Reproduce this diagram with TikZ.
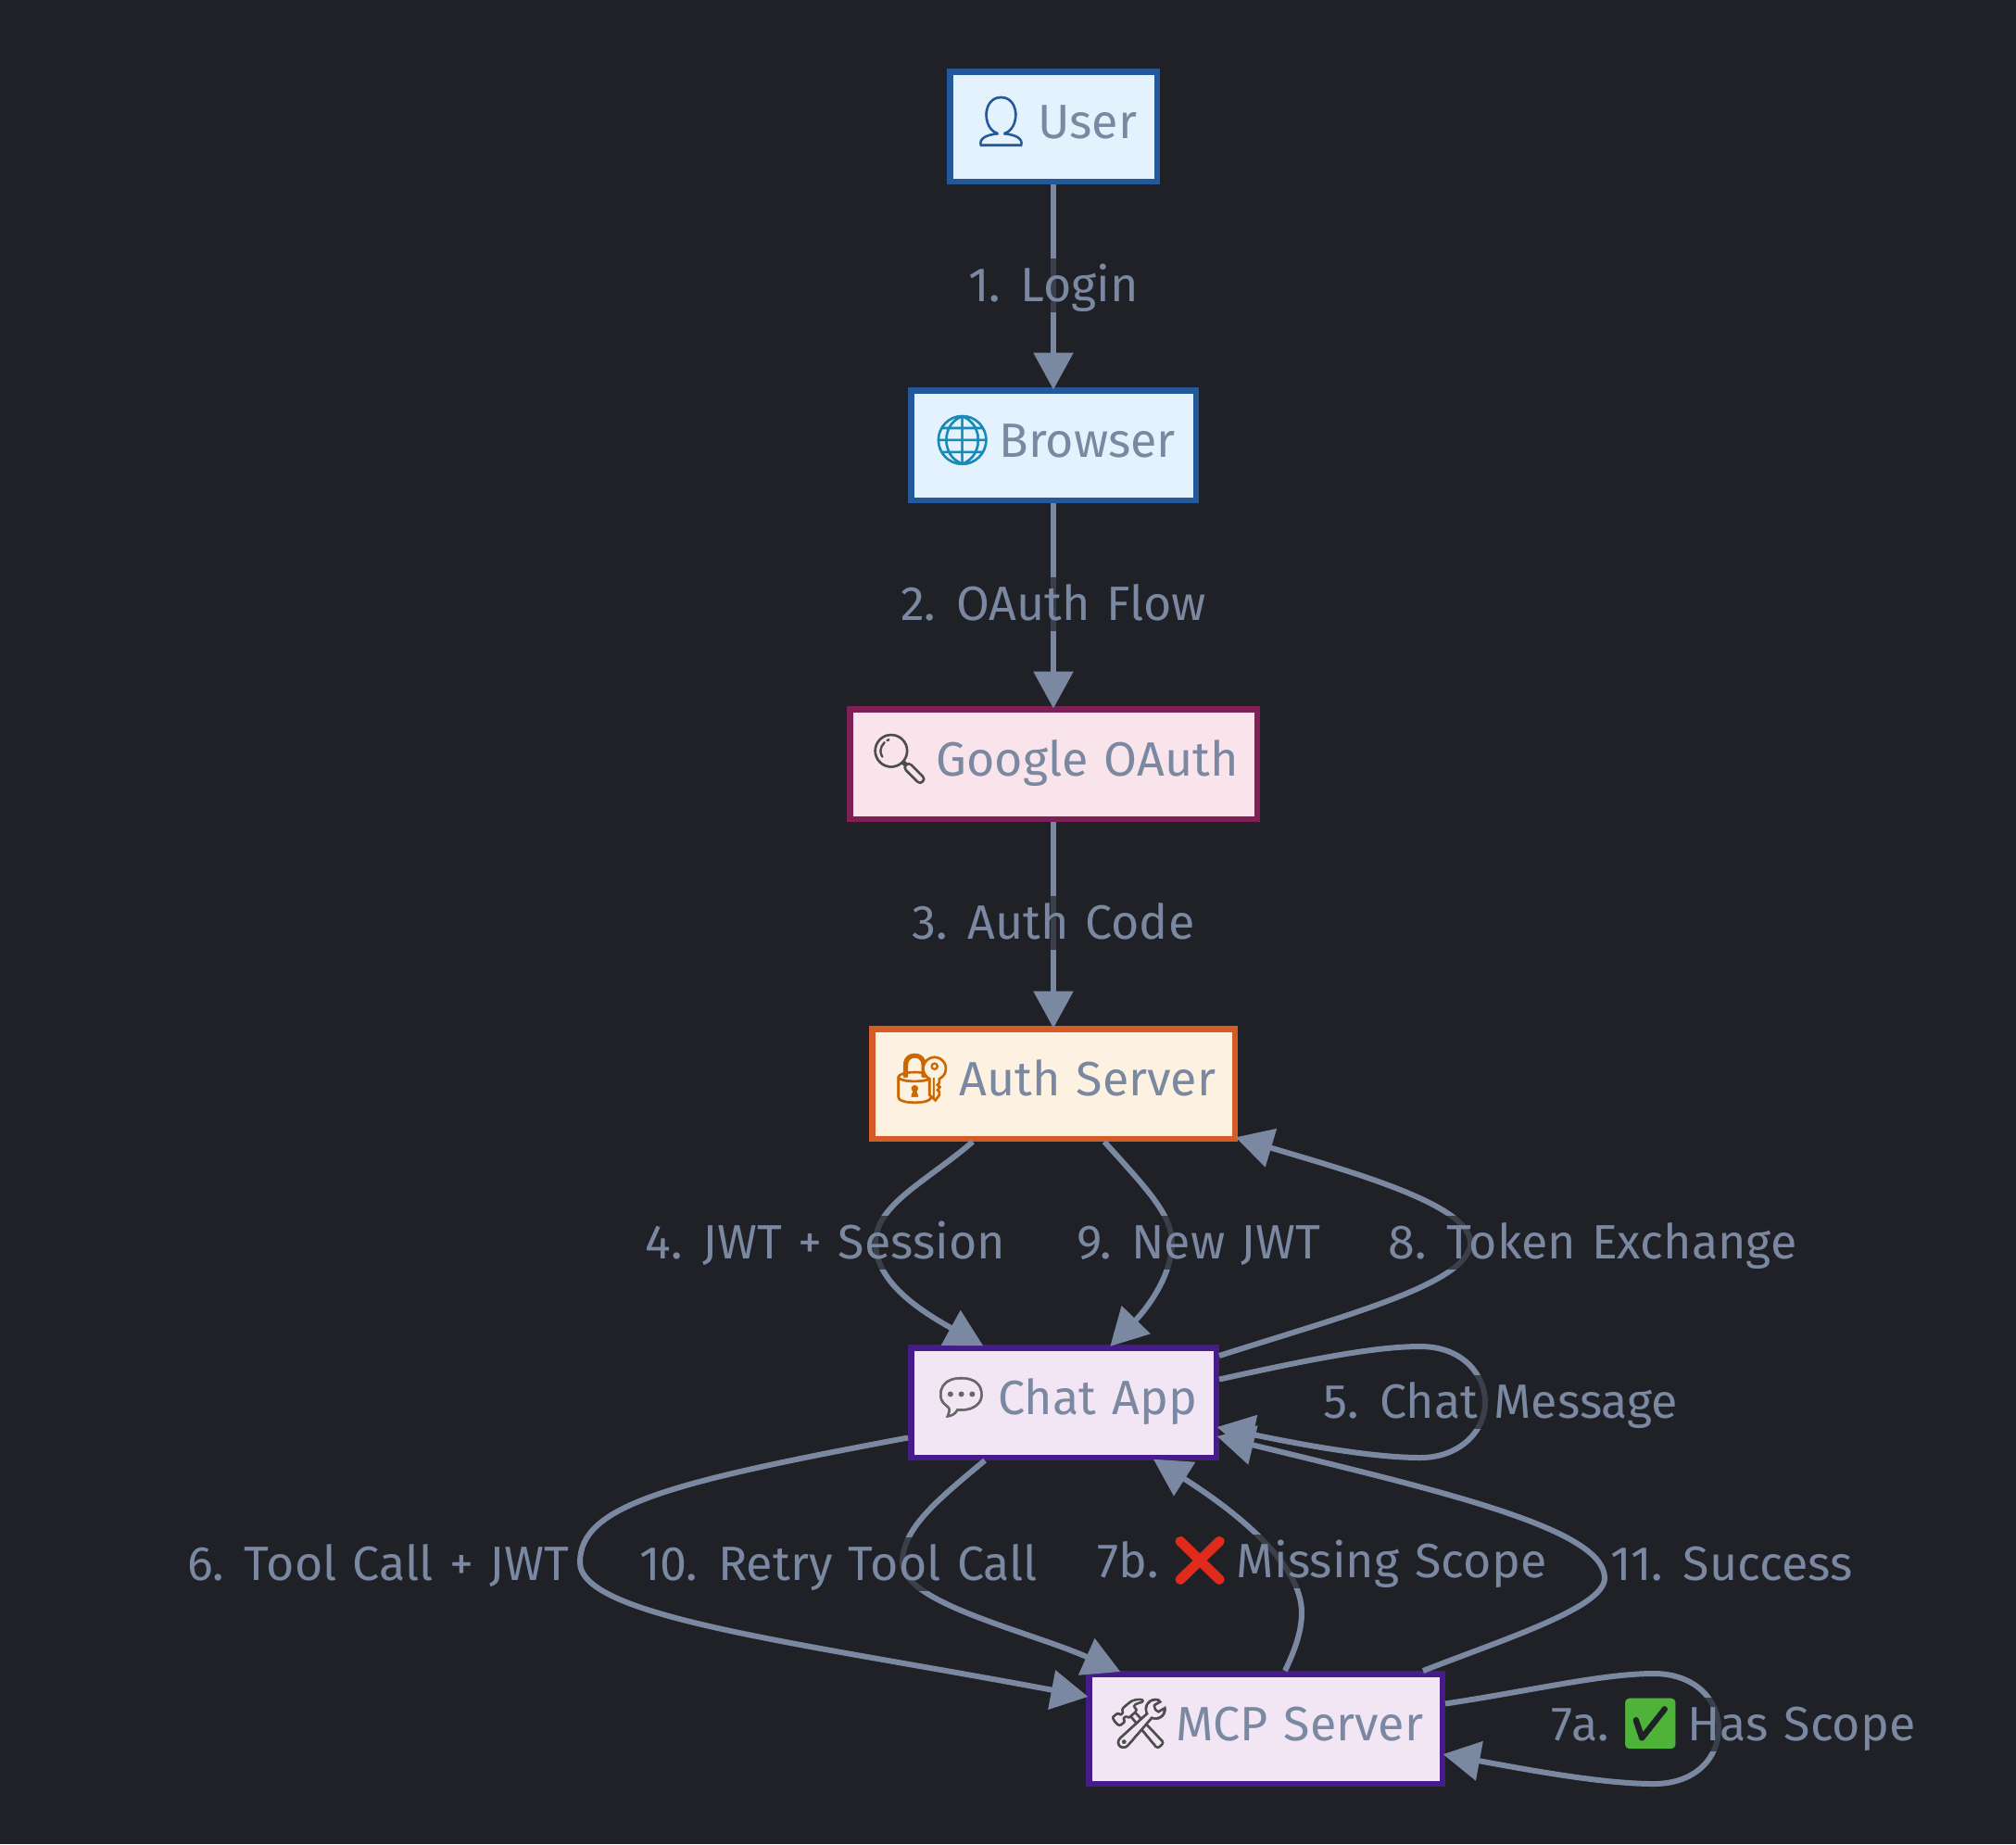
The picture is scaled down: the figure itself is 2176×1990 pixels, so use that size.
\documentclass[tikz,border=0pt]{standalone}
\usepackage{fontspec}
\setmainfont[WordSpace=1.25]{Fira Sans}
\newfontfamily\emojifont[FakeBold=1]{Noto Emoji}
\usetikzlibrary{arrows.meta}

\definecolor{bgc}{HTML}{1F2126}
\definecolor{linec}{HTML}{7B88A1}
\newcommand{\emo}[2]{{\emojifont\fontsize{53}{60}\selectfont\textcolor{#1}{#2}}\kern-11pt\relax}
\newcommand{\lemo}[2]{\kern-11pt\relax\emo{#1}{#2}}

\tikzset{
  nodebox/.style={draw, line width=6.5pt, inner sep=0pt, minimum height=118.5pt, text=linec,
    text height=30pt, text depth=5pt, font=\fontsize{52}{60}\selectfont},
  bluebox/.style={nodebox, fill=boxblue, draw=lineblue},
  pinkbox/.style={nodebox, fill=boxpink, draw=linepink},
  orangebox/.style={nodebox, fill=boxorange, draw=lineorange},
  purplebox/.style={nodebox, fill=boxpurple, draw=linepurple},
  edge/.style={draw=linec, line width=6pt, shorten >=-2.5pt, -{Triangle[width=42pt,length=40pt]}},
  edgelabel/.style={fill=bgc, fill opacity=.7, text opacity=1, text=linec, inner sep=0pt,
    minimum height=58pt, text height=36pt, text depth=2pt, font=\fontsize{52}{60}\selectfont}
}
\definecolor{boxblue}{HTML}{E3F2FD}
\definecolor{lineblue}{HTML}{23589A}
\definecolor{boxpink}{HTML}{F9E4EB}
\definecolor{linepink}{HTML}{7E1F55}
\definecolor{boxorange}{HTML}{FDF2E2}
\definecolor{lineorange}{HTML}{D65C25}
\definecolor{boxpurple}{HTML}{F2E5F4}
\definecolor{linepurple}{HTML}{461C8A}
\definecolor{crossred}{HTML}{E02A1C}
\definecolor{checkgreen}{HTML}{4FB33A}

\begin{document}
\begin{tikzpicture} [x=1pt,y=-1pt]
\fill[bgc] (0,0) rectangle (2176,1990);
\useasboundingbox (0,0) rectangle (2176,1990);

\draw (1137,136.5)  node (user)    [bluebox, minimum width=223.5pt]   {\emo{lineblue}{👤} User};
\draw (1137,480.5)  node (browser) [bluebox, minimum width=307.5pt]   {\emo{lineblue!70!cyan}{🌐} Browser};
\draw (1137,824.5)  node (google)  [pinkbox, minimum width=439.5pt]   {\emo{black!70}{🔍} Google OAuth};
\draw (1137,1169.5) node (auth)    [orangebox, minimum width=391.5pt] {\emo{orange!80!black}{🔐} Auth Server};
\draw (1148,1513.5) node (chat)    [purplebox, minimum width=329.5pt] {\emo{black!60}{💬} Chat App};
\draw (1366,1865.5) node (mcp)     [purplebox, minimum width=381.5pt] {\emo{black!70}{🛠} MCP Server};

\draw[edge] (user) -- (browser);
\draw[edge] (browser) -- (google);
\draw[edge] (google) -- (auth);
\draw[edge] ([xshift=-87pt]auth.south) .. controls (1000,1275) and (945,1300) .. (945,1341)
  .. controls (945,1380) and (985,1410) .. ([xshift=-89pt]chat.north);
\draw[edge] ([xshift=55pt]auth.south) .. controls (1235,1280) and (1265,1310) .. (1265,1341)
  .. controls (1265,1375) and (1240,1410) .. ([xshift=52pt]chat.north);
\draw[edge] ([yshift=-12pt]chat.north east) .. controls (1450,1420) and (1587,1385) .. (1587,1341)
  .. controls (1587,1300) and (1460,1265) .. ([yshift=4pt]auth.south east);
\draw[edge] ([yshift=25pt]chat.east) .. controls (1400,1470) and (1480,1453) .. (1533,1453)
  .. controls (1580,1453) and (1603,1485) .. (1603,1513)
  .. controls (1603,1545) and (1575,1573) .. (1533,1573)
  .. controls (1480,1573) and (1400,1558) .. ([yshift=-27pt]chat.east);
\draw[edge] ([yshift=-38pt]chat.west) .. controls (720,1600) and (626,1625) .. (626,1686)
  .. controls (626,1745) and (860,1772) .. ([yshift=35pt]mcp.west);
\draw[edge] ([xshift=-85pt]chat.south) .. controls (1010,1620) and (974,1650) .. (974,1686)
  .. controls (974,1730) and (1110,1760) .. ([xshift=-159pt]mcp.north);
\draw[edge] ([xshift=21pt]mcp.north) .. controls (1398,1780) and (1405,1760) .. (1405,1740)
  .. controls (1405,1690) and (1340,1635) .. ([xshift=99pt]chat.south);
\draw[edge] ([xshift=170pt]mcp.north) .. controls (1620,1770) and (1732,1735) .. (1732,1703)
  .. controls (1732,1650) and (1560,1610) .. ([yshift=-37pt]chat.east);
\draw[edge] ([yshift=27pt]mcp.east) .. controls (1650,1825) and (1730,1806) .. (1785,1806)
  .. controls (1830,1806) and (1855,1835) .. (1855,1865)
  .. controls (1855,1897) and (1830,1925) .. (1785,1925)
  .. controls (1730,1925) and (1650,1910) .. ([yshift=-28pt]mcp.east);

\draw (1137,308)  node (login) [edgelabel] {1. Login};
\draw (1137,652)  node (flow)  [edgelabel] {2. OAuth Flow};
\draw (1137,996)  node (code)  [edgelabel] {3. Auth Code};
\draw (891,1341)  node (jwt)   [edgelabel] {4. JWT + Session};
\draw (1294,1341) node (newjwt) [edgelabel] {9. New JWT};
\draw (1719,1341) node (token) [edgelabel] {8. Token Exchange};
\draw (1620,1513) node (msg)   [edgelabel] {5. Chat Message};
\draw (408,1688)  node (tool)  [edgelabel] {6. Tool Call + JWT};
\draw (905,1688)  node (retry) [edgelabel] {10. Retry Tool Call};
\draw (1427,1685) node (miss)  [edgelabel] {7b. \lemo{crossred}{❌} Missing Scope};
\draw (1869,1688) node (done)  [edgelabel] {11. Success};
\draw (1871,1861) node (has)   [edgelabel] {7a. \lemo{checkgreen}{✅} Has Scope};
\end{tikzpicture}
\end{document}
